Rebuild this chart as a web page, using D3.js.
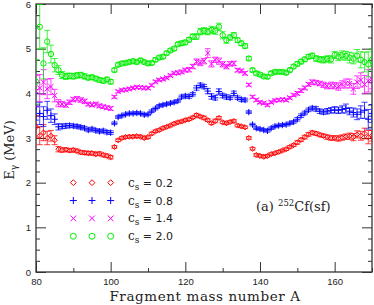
<!DOCTYPE html>
<html>
<head>
<meta charset="utf-8">
<script src="https://cdn.jsdelivr.net/npm/d3@7"></script>
<style>
  body { margin: 0; background: #fff; }
  svg { display: block; }
  .tick text { font-family: "Liberation Sans", sans-serif; font-size: 9.5px; fill: #222; }
  .tick line { stroke: #333; stroke-width: 1; }
</style>
</head>
<body>
<div id="chart"></div>
<script>
// fragment mass numbers 80..170
var massA = d3.range(80, 171);

var cs02 = [3.25,3.05,3.12,3.00,3.05,2.95,2.75,2.73,2.74,2.72,
            2.73,2.71,2.68,2.67,2.66,2.66,2.64,2.65,2.62,2.60,
            2.57,2.80,2.95,3.00,3.02,3.03,3.03,3.04,3.03,3.00,
            3.02,3.10,3.15,3.18,3.22,3.25,3.28,3.32,3.35,3.37,
            3.40,3.42,3.46,3.51,3.48,3.45,3.40,3.33,3.38,3.45,
            3.35,3.33,3.36,3.38,3.28,3.26,3.24,3.00,2.76,2.62,
            2.60,2.58,2.60,2.64,2.66,2.69,2.72,2.75,2.80,2.84,
            2.90,2.96,3.02,3.08,3.12,3.10,3.07,3.05,3.02,3.00,
            3.00,2.99,3.01,3.03,3.04,3.02,3.08,3.05,3.10,3.02,
            3.05];
var cs08 = [3.70,3.55,3.48,3.62,3.50,3.42,3.25,3.26,3.27,3.28,
            3.27,3.26,3.24,3.22,3.18,3.20,3.17,3.15,3.16,3.13,
            3.12,3.33,3.47,3.50,3.53,3.55,3.55,3.56,3.55,3.52,
            3.53,3.60,3.66,3.72,3.74,3.76,3.78,3.80,3.83,3.92,
            3.94,3.93,3.98,4.12,4.18,4.15,4.05,3.93,3.90,4.04,
            3.95,3.92,3.90,4.00,3.90,3.86,3.85,3.58,3.30,3.22,
            3.20,3.18,3.16,3.22,3.26,3.28,3.29,3.30,3.33,3.36,
            3.42,3.50,3.56,3.63,3.67,3.65,3.60,3.58,3.60,3.62,
            3.63,3.62,3.64,3.66,3.60,3.57,3.53,3.58,3.62,3.42,
            3.55];
var cs14 = [4.05,4.12,4.25,4.10,4.15,3.95,3.78,3.76,3.74,3.80,
            3.86,3.88,3.85,3.82,3.76,3.74,3.76,3.72,3.70,3.68,
            3.66,3.92,4.04,4.07,4.08,4.10,4.12,4.14,4.13,4.12,
            4.12,4.18,4.26,4.30,4.32,4.35,4.40,4.45,4.46,4.48,
            4.52,4.53,4.60,4.71,4.68,4.72,4.90,4.66,4.75,4.72,
            4.65,4.60,4.66,4.67,4.52,4.50,4.45,4.19,3.92,3.85,
            3.80,3.78,3.74,3.80,3.84,3.85,3.86,3.85,3.90,3.96,
            4.00,4.06,4.12,4.20,4.25,4.24,4.22,4.19,4.16,4.18,
            4.17,4.15,4.20,4.22,4.22,4.10,4.25,4.30,4.20,4.28,
            4.32];
var cs20 = [4.26,5.49,4.67,5.16,4.88,4.63,4.52,4.41,4.38,4.39,
            4.38,4.40,4.41,4.38,4.35,4.36,4.33,4.30,4.28,4.31,
            4.26,4.52,4.64,4.67,4.68,4.70,4.72,4.70,4.74,4.70,
            4.67,4.68,4.75,4.80,4.82,4.90,4.96,5.00,5.10,5.12,
            5.14,5.20,5.27,5.27,5.38,5.40,5.38,5.42,5.40,5.49,
            5.30,5.19,5.25,5.30,5.19,5.12,5.06,4.78,4.52,4.45,
            4.42,4.38,4.37,4.45,4.48,4.48,4.48,4.46,4.52,4.60,
            4.66,4.71,4.76,4.82,4.84,4.78,4.76,4.75,4.77,4.76,
            4.86,4.82,4.85,4.84,4.80,4.78,4.84,4.75,4.70,4.65,
            4.75];

// error bars (MeV)
var err02 = [0.25,0.20,0.18,0.15,0.12,0.10,0.06,0.05,0.04,0.04,
             0.04,0.04,0.04,0.04,0.04,0.04,0.04,0.04,0.04,0.04,
             0.04,0.03,0.03,0.03,0.03,0.03,0.03,0.03,0.03,0.03,
             0.03,0.03,0.03,0.03,0.03,0.03,0.03,0.03,0.03,0.03,
             0.03,0.03,0.03,0.04,0.03,0.04,0.03,0.03,0.04,0.03,
             0.03,0.03,0.03,0.03,0.03,0.03,0.03,0.03,0.03,0.03,
             0.03,0.03,0.03,0.03,0.03,0.03,0.03,0.03,0.03,0.03,
             0.04,0.04,0.04,0.04,0.04,0.04,0.04,0.04,0.05,0.05,
             0.05,0.06,0.06,0.06,0.07,0.08,0.08,0.10,0.12,0.15,
             0.12];
var err08 = [0.30,0.25,0.22,0.20,0.15,0.12,0.07,0.05,0.05,0.04,
             0.04,0.04,0.04,0.04,0.04,0.04,0.04,0.04,0.04,0.04,
             0.04,0.03,0.03,0.03,0.03,0.03,0.03,0.03,0.03,0.03,
             0.03,0.03,0.03,0.03,0.03,0.03,0.03,0.03,0.03,0.04,
             0.04,0.04,0.04,0.05,0.05,0.05,0.06,0.06,0.05,0.06,
             0.05,0.05,0.04,0.05,0.04,0.04,0.04,0.03,0.03,0.03,
             0.03,0.03,0.03,0.03,0.03,0.03,0.03,0.03,0.03,0.03,
             0.04,0.04,0.04,0.04,0.04,0.05,0.05,0.05,0.06,0.06,
             0.07,0.07,0.08,0.10,0.08,0.10,0.12,0.14,0.18,0.22,
             0.20];
var err14 = [0.35,0.30,0.28,0.22,0.18,0.14,0.08,0.06,0.05,0.05,
             0.05,0.05,0.05,0.05,0.04,0.04,0.04,0.04,0.04,0.04,
             0.04,0.03,0.03,0.03,0.03,0.03,0.03,0.03,0.03,0.03,
             0.03,0.03,0.03,0.03,0.03,0.03,0.03,0.03,0.04,0.04,
             0.04,0.05,0.05,0.06,0.06,0.06,0.10,0.07,0.06,0.07,
             0.06,0.05,0.05,0.05,0.04,0.04,0.04,0.03,0.03,0.03,
             0.03,0.03,0.03,0.03,0.03,0.03,0.03,0.03,0.03,0.03,
             0.04,0.04,0.04,0.04,0.05,0.05,0.05,0.06,0.06,0.07,
             0.07,0.08,0.08,0.10,0.10,0.12,0.14,0.16,0.20,0.25,
             0.22];
var err20 = [0.50,0.50,0.35,0.25,0.20,0.15,0.10,0.08,0.07,0.06,
             0.06,0.06,0.06,0.06,0.05,0.05,0.05,0.05,0.05,0.05,
             0.05,0.04,0.04,0.04,0.04,0.04,0.04,0.04,0.04,0.04,
             0.04,0.04,0.04,0.04,0.04,0.04,0.04,0.04,0.04,0.05,
             0.05,0.05,0.06,0.06,0.07,0.07,0.07,0.08,0.08,0.08,
             0.08,0.07,0.06,0.06,0.05,0.05,0.05,0.04,0.04,0.04,
             0.04,0.04,0.04,0.04,0.04,0.04,0.04,0.04,0.04,0.04,
             0.05,0.05,0.05,0.05,0.06,0.06,0.06,0.07,0.07,0.08,
             0.08,0.09,0.10,0.10,0.12,0.12,0.14,0.18,0.22,0.28,
             0.25];

var seriesNames = ["0.2", "0.8", "1.4", "2.0"];
var seriesValues = [cs02, cs08, cs14, cs20];
var seriesErrors = [err02, err08, err14, err20];
var seriesColors = ["#ff0000", "#0000ff", "#ff00ff", "#00ee00"];
var seriesSymbols = ["diamond", "plus", "cross", "circle"];

var xTicks = [80, 100, 120, 140, 160];
var yTicks = [0, 1, 2, 3, 4, 5, 6];

var W = 374, H = 305;
var margin = {left: 36, right: 2, top: 4, bottom: 33};

var x = d3.scaleLinear().domain([80, 170]).range([margin.left, W - margin.right]);
var y = d3.scaleLinear().domain([0, 6]).range([H - margin.bottom, margin.top]);

var svg = d3.select("#chart").append("svg")
    .attr("width", W)
    .attr("height", H);

svg.append("defs").append("clipPath").attr("id", "plotclip")
  .append("rect")
    .attr("x", x(80)).attr("y", y(6))
    .attr("width", x(170) - x(80)).attr("height", y(0) - y(6));

// axes, ticks inward on all four sides
function addAxis(axisFn, tr, major, minor, labels) {
  var a = svg.append("g").attr("transform", tr);
  a.call(axisFn.tickValues(minor).tickSize(-4).tickFormat(""));
  a.select(".domain").remove();
  var b = svg.append("g").attr("transform", tr);
  b.call(axisFn.tickValues(major).tickSize(-10).tickFormat(labels ? d3.format("d") : ""));
  b.select(".domain").remove();
  return b;
}

var xb = addAxis(d3.axisBottom(x), "translate(0," + y(0) + ")", xTicks, d3.range(90, 171, 20), true);
xb.selectAll(".tick text").attr("dy", "1.05em");
addAxis(d3.axisTop(x), "translate(0," + y(6) + ")", xTicks, d3.range(90, 171, 20), false);
var yl = addAxis(d3.axisLeft(y), "translate(" + x(80) + ",0)", yTicks, d3.range(0, 6.01, 0.25).filter(function(d) { return d % 1 !== 0; }), true);
yl.selectAll(".tick text").attr("x", -5);
addAxis(d3.axisRight(y), "translate(" + x(170) + ",0)", yTicks, d3.range(0, 6.01, 0.25).filter(function(d) { return d % 1 !== 0; }), false);

svg.append("rect")
    .attr("x", x(80)).attr("y", y(6))
    .attr("width", x(170) - x(80)).attr("height", y(0) - y(6))
    .attr("fill", "none")
    .attr("stroke", "#333")
    .attr("stroke-width", 1.3);

function symbolPath(kind, s) {
  if (kind === "diamond") return "M0," + (-s) + "L" + s + ",0L0," + s + "L" + (-s) + ",0Z";
  if (kind === "plus") return "M" + (-s) + ",0H" + s + "M0," + (-s) + "V" + s;
  if (kind === "cross") return "M" + (-s) + "," + (-s) + "L" + s + "," + s + "M" + (-s) + "," + s + "L" + s + "," + (-s);
  return "M" + s + ",0A" + s + "," + s + " 0 1,1 " + (-s) + ",0A" + s + "," + s + " 0 1,1 " + s + ",0";
}
var symSize = {diamond: 2.6, plus: 3.2, cross: 2.6, circle: 2.7};

var plot = svg.append("g").attr("clip-path", "url(#plotclip)");

seriesValues.forEach(function(vals, k) {
  var col = seriesColors[k], errs = seriesErrors[k], kind = seriesSymbols[k];
  var pts = massA.map(function(a, i) { return {a: a, v: vals[i], e: errs[i]}; });
  var g = plot.append("g");
  var cap = 3;
  g.selectAll("path.eb").data(pts).enter().append("path")
    .attr("class", "eb")
    .attr("d", function(d) {
      var cx = x(d.a), y0 = y(d.v - d.e), y1 = y(d.v + d.e);
      return "M" + cx + "," + y0 + "V" + y1 +
             "M" + (cx - cap) + "," + y0 + "H" + (cx + cap) +
             "M" + (cx - cap) + "," + y1 + "H" + (cx + cap);
    })
    .attr("fill", "none")
    .attr("stroke", col)
    .attr("stroke-opacity", 0.75)
    .attr("stroke-width", 1);
  g.selectAll("path.pt").data(pts).enter().append("path")
    .attr("class", "pt")
    .attr("transform", function(d) { return "translate(" + x(d.a) + "," + y(d.v) + ")"; })
    .attr("d", symbolPath(kind, symSize[kind]))
    .attr("fill", "none")
    .attr("stroke", col)
    .attr("stroke-width", 1);
});

// legend
var legendMarkX = [90, 95, 100];
var legendY = [2.0, 1.6, 1.2, 0.8];
seriesNames.forEach(function(name, k) {
  var ly = y(legendY[k]) ;
  legendMarkX.forEach(function(a) {
    svg.append("path")
      .attr("transform", "translate(" + x(a) + "," + ly + ")")
      .attr("d", symbolPath(seriesSymbols[k], symSize[seriesSymbols[k]] + 0.3))
      .attr("fill", "none")
      .attr("stroke", seriesColors[k])
      .attr("stroke-width", 1);
  });
  var t = svg.append("text")
    .attr("x", 128).attr("y", ly + 4)
    .attr("font-family", "DejaVu Serif, serif")
    .attr("font-size", 12)
    .attr("fill", "#222");
  t.append("tspan").text("c");
  t.append("tspan").attr("font-size", 9).attr("dy", 3).text("s");
  t.append("tspan").attr("dy", -3).attr("font-family", "DejaVu Sans, sans-serif").attr("font-size", 11).text(" = " + name);
});

var lab = svg.append("text")
    .attr("x", 256).attr("y", 211)
    .attr("font-family", "DejaVu Serif, serif")
    .attr("font-size", 13)
    .attr("fill", "#222");
lab.append("tspan").text("(a) ");
lab.append("tspan").attr("font-size", 8.5).attr("dy", -5).text("252");
lab.append("tspan").attr("dy", 5).text("Cf(sf)");

svg.append("text")
    .attr("x", 205).attr("y", 301)
    .attr("text-anchor", "middle")
    .attr("font-family", "DejaVu Serif, serif")
    .attr("font-size", 13.5)
    .attr("letter-spacing", 0.6)
    .attr("fill", "#222")
    .text("Fragment mass number A");

var yt = svg.append("text")
    .attr("transform", "translate(14,150) rotate(-90)")
    .attr("text-anchor", "middle")
    .attr("font-family", "DejaVu Serif, serif")
    .attr("font-size", 13)
    .attr("fill", "#222");
yt.append("tspan").text("E");
yt.append("tspan").attr("font-size", 9).attr("dy", 3).text("γ");
yt.append("tspan").attr("dy", -3).text(" (MeV)");
</script>
</body>
</html>
